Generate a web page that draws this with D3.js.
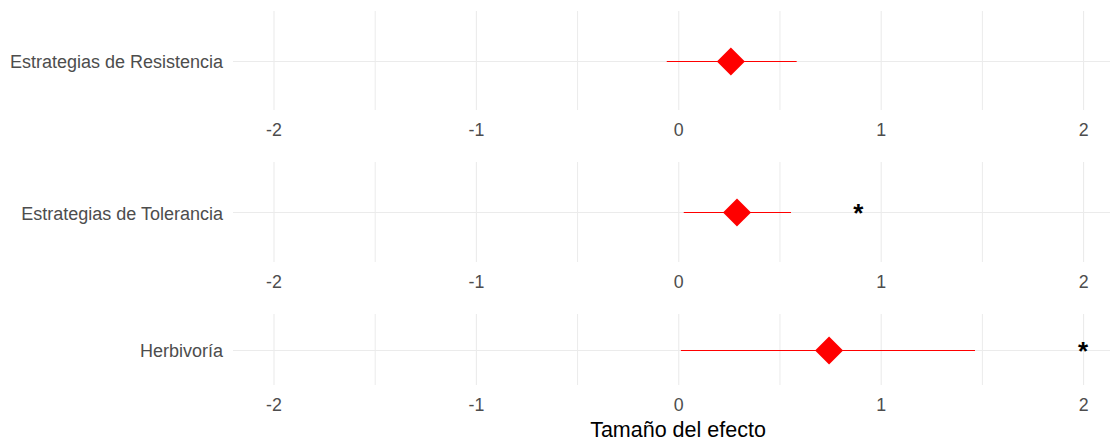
<!DOCTYPE html>
<html>
<head>
<meta charset="utf-8">
<script src="https://cdn.jsdelivr.net/npm/d3@7"></script>
<style>
  html, body { margin: 0; padding: 0; background: #ffffff; }
  svg { display: block; font-family: "Liberation Sans", Arial, sans-serif; }
</style>
</head>
<body>
<svg id="chart" width="1110" height="441"></svg>
<script>
// Effect sizes with confidence intervals, one facet per response group
const categories = ["Estrategias de Resistencia", "Estrategias de Tolerancia", "Herbivoría"];
const estimates  = [0.26, 0.29, 0.745];
const lowerCI    = [-0.057, 0.027, 0.013];
const upperCI    = [0.585, 0.557, 1.466];
const starLabels = ["", "*", "*"];
const starX      = [null, 0.89, 2.0];
const majorTicks = [-2, -1, 0, 1, 2];
const minorTicks = [-1.5, -0.5, 0.5, 1.5];
const xTitle     = "Tamaño del efecto";

const svg = d3.select("#chart");
const W = 1110;
const panelLeft = 233, panelRight = W;

// vertical extent of each facet panel
const panels = [
  { top: 11,  bottom: 110 },
  { top: 162, bottom: 262 },
  { top: 314, bottom: 385 }
];

const x = d3.scaleLinear().domain([-2.2, 2.133]).range([panelLeft, panelRight]);

const gridColor = "#ebebeb";
const textColor = "#4d4d4d";

categories.forEach((cat, i) => {
  const p = panels[i];
  const y = d3.scalePoint().domain([cat]).range([p.top, p.bottom]).padding(0.5);
  const yc = Math.round(y(cat)) + 0.5;
  const g = svg.append("g");

  // minor vertical grid
  g.append("g")
    .attr("transform", `translate(0,${p.bottom})`)
    .call(d3.axisBottom(x).tickValues(minorTicks).tickSize(-(p.bottom - p.top)).tickFormat(""))
    .call(a => a.select(".domain").remove())
    .call(a => a.selectAll("line").attr("stroke", gridColor).attr("stroke-width", 1));

  // major vertical grid
  g.append("g")
    .attr("transform", `translate(0,${p.bottom})`)
    .call(d3.axisBottom(x).tickValues(majorTicks).tickSize(-(p.bottom - p.top)).tickFormat(""))
    .call(a => a.select(".domain").remove())
    .call(a => a.selectAll("line").attr("stroke", gridColor).attr("stroke-width", 1.1));

  // horizontal grid line at the category
  g.append("line")
    .attr("x1", panelLeft).attr("x2", panelRight)
    .attr("y1", yc).attr("y2", yc)
    .attr("stroke", gridColor).attr("stroke-width", 1.1);

  // x tick labels
  g.append("g")
    .attr("transform", `translate(0,${p.bottom})`)
    .call(d3.axisBottom(x).tickValues(majorTicks).tickSize(0).tickPadding(13.5).tickFormat(d => String(d)))
    .call(a => a.select(".domain").remove())
    .call(a => a.selectAll("text")
      .attr("fill", textColor)
      .style("font-size", "17.8px")
      .style("font-family", "'Liberation Sans', Arial, sans-serif"));

  // category label
  g.append("g")
    .attr("transform", `translate(${panelLeft},0)`)
    .call(d3.axisLeft(y).tickSize(0).tickPadding(10))
    .call(a => a.select(".domain").remove())
    .call(a => a.selectAll("text")
      .attr("fill", textColor)
      .attr("dy", "0.4em")
      .style("font-size", "18px")
      .style("font-family", "'Liberation Sans', Arial, sans-serif"));

  // confidence interval
  g.append("line")
    .attr("x1", x(lowerCI[i])).attr("x2", x(upperCI[i]))
    .attr("y1", yc).attr("y2", yc)
    .attr("stroke", "#ff0000").attr("stroke-width", 1.2);

  // point estimate
  g.append("path")
    .attr("d", d3.symbol(d3.symbolDiamond2, 500)())
    .attr("transform", `translate(${x(estimates[i])},${yc})`)
    .attr("fill", "#ff0000");

  // significance marker
  if (starLabels[i]) {
    g.append("text")
      .attr("x", x(starX[i]))
      .attr("y", yc + 9)
      .attr("text-anchor", "middle")
      .attr("font-weight", "bold")
      .attr("font-size", 26)
      .attr("fill", "#000000")
      .text(starLabels[i]);
  }
});

// x axis title
svg.append("text")
  .attr("x", 678)
  .attr("y", 436.5)
  .attr("text-anchor", "middle")
  .attr("font-size", 21.5)
  .attr("fill", "#000000")
  .text(xTitle);
</script>
</body>
</html>
